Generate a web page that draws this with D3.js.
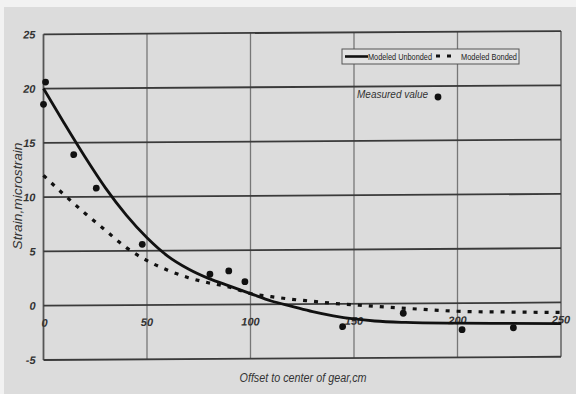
<!DOCTYPE html>
<html>
<head>
<script src="https://cdn.jsdelivr.net/npm/d3@7"></script>
<style>
  body { margin: 0; background: #f2f2f2; }
  svg text { font-family: "Liberation Sans Narrow", "Liberation Sans", Arial, sans-serif; fill: #333; }
</style>
</head>
<body>
<div id="chart"></div>
<script>
// values
var curveX    = [0, 10, 20, 30, 40, 50, 60, 70, 80, 90, 100, 110, 120, 130, 140, 150, 160, 175, 200, 225, 250];
var unbonded  = [20, 16.8, 13.7, 10.8, 8.3, 6.2, 4.5, 3.3, 2.4, 1.7, 1.0, 0.3, -0.2, -0.7, -1.1, -1.4, -1.6, -1.75, -1.85, -1.9, -1.95];
var bonded    = [12, 10.2, 8.5, 6.9, 5.3, 4.1, 3.2, 2.5, 2.0, 1.6, 1.0, 0.7, 0.45, 0.25, 0.05, -0.1, -0.25, -0.45, -0.75, -0.85, -0.92];
var measuredX = [0, 1, 14.6, 25.5, 47.7, 80.4, 89.5, 97.3, 144.5, 173.8, 202.2, 227];
var measuredY = [18.55, 20.6, 13.9, 10.8, 5.6, 2.8, 3.1, 2.1, -2.1, -0.9, -2.45, -2.3];
var xTicks = [0, 50, 100, 150, 200, 250];
var yTicks = [-5, 0, 5, 10, 15, 20, 25];

var W = 576, H = 394;
var svg = d3.select("#chart").append("svg").attr("width", W).attr("height", H);

// scanned page background
svg.append("rect").attr("x", 4).attr("y", 7).attr("width", W - 4).attr("height", H - 7).attr("fill", "#dcdcdc");

var left = 43.5;
var x = d3.scaleLinear().domain([0, 250]).range([0, 517.5]);
var y = d3.scaleLinear().domain([-5, 25]).range([360, 34.3]);

// scan is slightly tilted
var g = svg.append("g").attr("transform", "translate(" + left + ",0) skewY(-0.36)");

// vertical grid
g.selectAll(".vg").data(xTicks).enter().append("line")
  .attr("x1", function(d){ return x(d); }).attr("x2", function(d){ return x(d); })
  .attr("y1", y(25)).attr("y2", y(-5))
  .attr("stroke", function(d){ return d == 0 ? "#555" : "#777"; })
  .attr("stroke-width", function(d){ return d == 0 || d == 250 ? 1.8 : 1.3; });

// horizontal grid
g.selectAll(".hg").data(yTicks).enter().append("line")
  .attr("x1", x(0)).attr("x2", x(250))
  .attr("y1", function(d){ return y(d); }).attr("y2", function(d){ return y(d); })
  .attr("stroke", "#3a3a3a").attr("stroke-width", 1.8);

// y tick labels
g.selectAll(".yl").data(yTicks).enter().append("text")
  .attr("x", -8).attr("y", function(d){ return y(d) + 4; })
  .attr("text-anchor", "end").attr("font-size", 11).attr("font-weight", "bold")
  .style("font-style", "italic")
  .text(function(d){ return d; });

// x tick labels sit just under the zero line
g.selectAll(".xl").data(xTicks).enter().append("text")
  .attr("x", function(d){ return x(d) + (d == 0 ? 1 : 0); }).attr("y", y(0) + 21)
  .attr("text-anchor", "middle").attr("font-size", 11).attr("font-weight", "bold")
  .style("font-style", "italic")
  .text(function(d){ return d; });

var line = d3.line()
  .x(function(d){ return x(d[0]); })
  .y(function(d){ return y(d[1]); })
  .curve(d3.curveMonotoneX);

g.append("path").datum(curveX.map(function(v, i){ return [v, bonded[i]]; }))
  .attr("d", line).attr("fill", "none").attr("stroke", "#111")
  .attr("stroke-width", 3.2).attr("stroke-dasharray", "4,7");

g.append("path").datum(curveX.map(function(v, i){ return [v, unbonded[i]]; }))
  .attr("d", line).attr("fill", "none").attr("stroke", "#111").attr("stroke-width", 2.8);

g.selectAll(".pt").data(measuredX).enter().append("circle")
  .attr("cx", function(d){ return x(d); })
  .attr("cy", function(d, i){ return y(measuredY[i]); })
  .attr("r", 3.4).attr("fill", "#111");

// legend
var lg = svg.append("g");
lg.append("rect").attr("x", 342).attr("y", 49).attr("width", 177).attr("height", 15)
  .attr("fill", "#e2e2e2").attr("stroke", "#555").attr("stroke-width", 1);
lg.append("line").attr("x1", 345).attr("x2", 368).attr("y1", 56.5).attr("y2", 56.5)
  .attr("stroke", "#111").attr("stroke-width", 2.6);
lg.append("text").attr("x", 368).attr("y", 59.5).attr("font-size", 8.5)
  .attr("textLength", 64).attr("lengthAdjust", "spacingAndGlyphs")
  .style("fill", "#222").text("Modeled Unbonded");
lg.append("line").attr("x1", 436).attr("x2", 452).attr("y1", 56).attr("y2", 56)
  .attr("stroke", "#111").attr("stroke-width", 3).attr("stroke-dasharray", "4,7");
lg.append("text").attr("x", 461).attr("y", 59.5).attr("font-size", 8.5)
  .attr("textLength", 56).attr("lengthAdjust", "spacingAndGlyphs")
  .style("fill", "#222").text("Modeled Bonded");

svg.append("text").attr("x", 357).attr("y", 98).attr("font-size", 10)
  .style("font-style", "italic").text("Measured  value");
svg.append("circle").attr("cx", 438).attr("cy", 97).attr("r", 3.4).attr("fill", "#111");

// axis titles
svg.append("text").attr("transform", "translate(22,196) rotate(-90)")
  .attr("text-anchor", "middle").attr("font-size", 12.5)
  .attr("textLength", 107).attr("lengthAdjust", "spacingAndGlyphs")
  .style("font-style", "italic").text("Strain,microstrain");
svg.append("text").attr("x", 303).attr("y", 382)
  .attr("text-anchor", "middle").attr("font-size", 12.5)
  .attr("textLength", 127).attr("lengthAdjust", "spacingAndGlyphs")
  .style("font-style", "italic").text("Offset to center of gear,cm");
</script>
</body>
</html>
